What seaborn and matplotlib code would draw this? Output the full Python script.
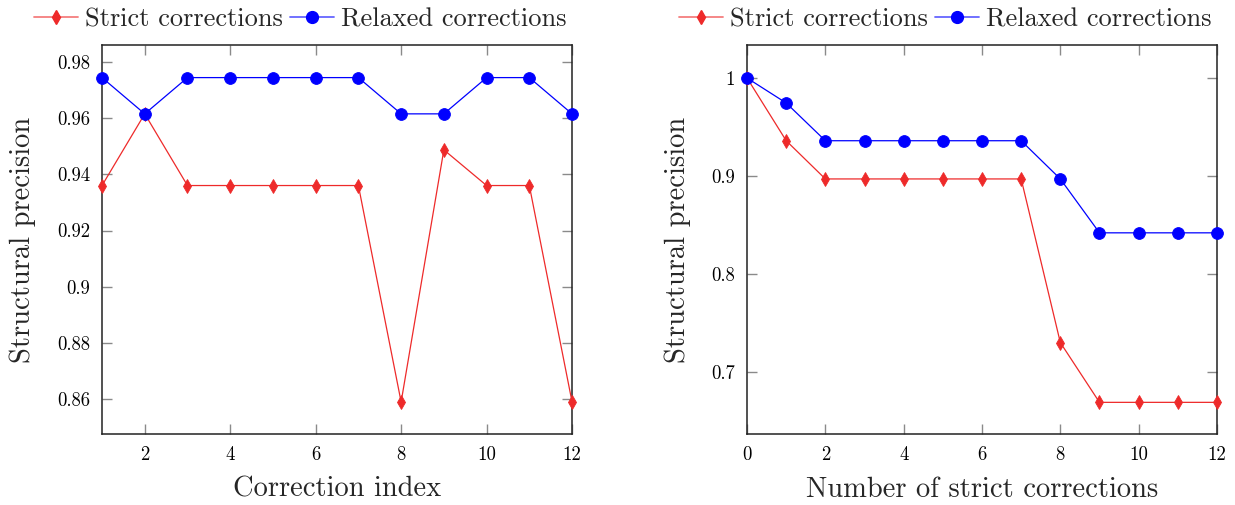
import numpy as np
import pandas as pd
import matplotlib
matplotlib.use("Agg")
import matplotlib.pyplot as plt
import seaborn as sns
from matplotlib.ticker import FuncFormatter, MultipleLocator
from matplotlib.lines import Line2D

sns.set_theme(style="white")
plt.rcParams['font.family'] = ['serif']
plt.rcParams['font.serif'] = ['cmr10', 'DejaVu Serif']
plt.rcParams['mathtext.fontset'] = 'cm'
plt.rcParams['axes.formatter.use_mathtext'] = True

# Left panel data
idx_left = [1, 2, 3, 4, 5, 6, 7, 8, 9, 10, 11, 12]
strict_left = [0.936, 0.9615, 0.936, 0.936, 0.936, 0.936, 0.936, 0.859, 0.9487, 0.936, 0.936, 0.859]
relaxed_left = [0.9744, 0.9615, 0.9744, 0.9744, 0.9744, 0.9744, 0.9744, 0.9615, 0.9615, 0.9744, 0.9744, 0.9615]

# Right panel data
idx_right = [0, 1, 2, 3, 4, 5, 6, 7, 8, 9, 10, 11, 12]
strict_right = [1.0, 0.936, 0.897, 0.897, 0.897, 0.897, 0.897, 0.897, 0.730, 0.669, 0.669, 0.669, 0.669]
relaxed_right = [1.0, 0.9745, 0.936, 0.936, 0.936, 0.936, 0.936, 0.936, 0.897, 0.842, 0.842, 0.842, 0.842]

series_names = ["Strict corrections", "Relaxed corrections"]
xlabels = ["Correction index", "Number of strict corrections"]
ylabel = "Structural precision"

RED = "#ee2a2a"
BLUE = "#0000ff"

fig = plt.figure(figsize=(12.35, 5.05), dpi=100)
axL = fig.add_axes([0.0826, 0.1406, 0.3806, 0.7703])
axR = fig.add_axes([0.6049, 0.1406, 0.3805, 0.7703])

RED_MS = 6.8
BLUE_MS = 8.5

def draw(ax, x, s, r):
    sns.lineplot(x=x, y=s, ax=ax, color=RED, marker='d', markersize=RED_MS,
                 markeredgecolor=RED, markeredgewidth=0.6, linewidth=0.9,
                 clip_on=False, zorder=3)
    sns.lineplot(x=x, y=r, ax=ax, color=BLUE, marker='o', markersize=BLUE_MS,
                 markeredgecolor=BLUE, markeredgewidth=0.6, linewidth=0.9,
                 clip_on=False, zorder=4)

draw(axL, idx_left, strict_left, relaxed_left)
draw(axR, idx_right, strict_right, relaxed_right)

fmt = FuncFormatter(lambda v, p: ('%g' % round(v, 4)))

axL.set_xlim(1, 12)
axL.set_ylim(0.8476, 0.986)
axL.xaxis.set_major_locator(MultipleLocator(2))
axL.yaxis.set_major_locator(MultipleLocator(0.02))

axR.set_xlim(0, 12)
axR.set_ylim(0.6367, 1.0337)
axR.xaxis.set_major_locator(MultipleLocator(2))
axR.yaxis.set_major_locator(MultipleLocator(0.1))

handles = [
    Line2D([], [], color=(0.93, 0.16, 0.16, 0.6), marker='d', markersize=RED_MS,
           markerfacecolor=RED, markeredgecolor=RED, linewidth=1.3),
    Line2D([], [], color=(0.0, 0.0, 1.0, 0.6), marker='o', markersize=BLUE_MS,
           markerfacecolor=BLUE, markeredgecolor=BLUE, linewidth=1.3),
]

for ax, xl in zip([axL, axR], xlabels):
    ax.xaxis.set_major_formatter(fmt)
    ax.yaxis.set_major_formatter(fmt)
    ax.tick_params(direction='in', length=7.5, width=1.0, color='#8a8a8a',
                   labelsize=13.5, top=True, right=True, bottom=True, left=True,
                   labelcolor='black', pad=8.5)
    for sp in ax.spines.values():
        sp.set_color('#222222')
        sp.set_linewidth(1.1)
    ax.set_xlabel(xl, fontsize=20.5, labelpad=9)
    ax.set_ylabel(ylabel, fontsize=20.5, labelpad=15)
    leg = ax.get_legend()
    if leg is not None:
        leg.remove()
    pos = ax.get_position()
    cx = (pos.x0 + pos.x1) / 2 - 0.0296
    fig.legend(handles, series_names, loc='center', bbox_to_anchor=(cx, 0.962),
               ncol=2, frameon=False, fontsize=19, handlelength=1.67,
               handletextpad=0.27, columnspacing=0.27, borderaxespad=0,
               borderpad=0)

fig.savefig("out.png", dpi=100)
